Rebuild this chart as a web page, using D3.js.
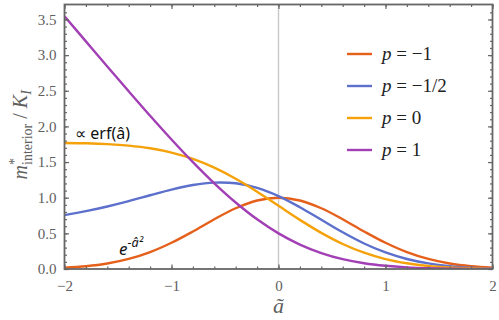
<!DOCTYPE html>
<html>
<head>
<meta charset="utf-8">
<script src="https://cdn.jsdelivr.net/npm/d3@7"></script>
<style>
  body { margin: 0; background: #fff; }
  svg { display: block; }
</style>
</head>
<body>
<div class="chart"></div>
<script>

// sample points along a-tilde
var aVals = [-2, -1.8, -1.6, -1.4, -1.2, -1, -0.8, -0.6, -0.4, -0.2, 0, 0.2, 0.4, 0.6, 0.8, 1, 1.2, 1.4, 1.6, 1.8, 2];

// m*_interior / K_I
var pMinus1 = [0.018, 0.039, 0.077, 0.141, 0.237, 0.368, 0.527, 0.698, 0.852, 0.961, 1.0, 0.961, 0.852, 0.698, 0.527, 0.368, 0.237, 0.141, 0.077, 0.039, 0.018];
var pMinusHalf = [0.756, 0.811, 0.877, 0.952, 1.034, 1.114, 1.178, 1.212, 1.202, 1.138, 1.023, 0.867, 0.691, 0.515, 0.358, 0.232, 0.140, 0.079, 0.041, 0.020, 0.009];
var pZero = [1.768, 1.763, 1.752, 1.730, 1.693, 1.633, 1.544, 1.421, 1.266, 1.084, 0.886, 0.689, 0.507, 0.351, 0.229, 0.139, 0.080, 0.042, 0.021, 0.010, 0.004];
var pOne = [3.546, 3.193, 2.841, 2.493, 2.150, 1.817, 1.499, 1.202, 0.933, 0.697, 0.5, 0.343, 0.224, 0.138, 0.081, 0.045, 0.023, 0.011, 0.005, 0.002, 0.001];

var seriesNames = ["p = \u22121", "p = \u22121/2", "p = 0", "p = 1"];
var seriesColors = ["#e5601a", "#5c70cc", "#f5a20a", "#a23fb5"];

var xTicks = [-2, -1, 0, 1, 2];
var yTicks = [0, 0.5, 1, 1.5, 2, 2.5, 3, 3.5];

var W = 499, H = 320;
var margin = { top: 4.5, right: 6.5, bottom: 51, left: 64.5 };
var width = W - margin.left - margin.right;
var height = H - margin.top - margin.bottom;

var x = d3.scaleLinear().domain([-2, 2]).range([0, width]);
var y = d3.scaleLinear().domain([0, 3.71]).range([height, 0]);

var svg = d3.select(".chart")
  .append("svg")
    .attr("width", W)
    .attr("height", H)
  .append("g")
    .attr("transform", "translate(" + margin.left + "," + margin.top + ")");

svg.append("defs").append("clipPath").attr("id", "clip")
  .append("rect").attr("width", width).attr("height", height);

// zero line
svg.append("line")
    .attr("x1", x(0)).attr("x2", x(0))
    .attr("y1", 0).attr("y2", height)
    .style("stroke", "#c8c8c8")
    .style("stroke-width", 1.4);

var allSeries = [pMinus1, pMinusHalf, pZero, pOne];
var line = d3.line()
    .x(function(d, i) { return x(aVals[i]); })
    .y(function(d) { return y(d); })
    .curve(d3.curveCatmullRom.alpha(0.5));

var curves = svg.append("g").attr("clip-path", "url(#clip)");
allSeries.forEach(function(s, k) {
    curves.append("path")
        .datum(s)
        .attr("d", line)
        .style("fill", "none")
        .style("stroke", seriesColors[k])
        .style("stroke-width", 2.4);
});

// frame with inward ticks on all sides
var frameColor = "#666666";
var minorX = d3.range(-2, 2.0001, 0.2);
var minorY = d3.range(0, 3.70, 0.1);

function addAxis(axis, transform) {
    var g = svg.append("g").attr("transform", transform).call(axis);
    g.select(".domain").remove();
    g.selectAll("line").style("stroke", frameColor).style("stroke-width", 1.2);
    return g;
}

// minor ticks
addAxis(d3.axisBottom(x).tickValues(minorX).tickSize(-2.5).tickFormat(""), "translate(0," + height + ")");
addAxis(d3.axisTop(x).tickValues(minorX).tickSize(-2.5).tickFormat(""), "translate(0,0)");
addAxis(d3.axisLeft(y).tickValues(minorY).tickSize(-2.5).tickFormat(""), "translate(0,0)");
addAxis(d3.axisRight(y).tickValues(minorY).tickSize(-2.5).tickFormat(""), "translate(" + width + ",0)");

// major ticks with labels
var xb = addAxis(d3.axisBottom(x).tickValues(xTicks).tickSize(-4.5).tickPadding(8)
    .tickFormat(function(d) { return d < 0 ? "\u2212" + (-d) : d; }), "translate(0," + height + ")");
addAxis(d3.axisTop(x).tickValues(xTicks).tickSize(-4.5).tickFormat(""), "translate(0,0)");
var yl = addAxis(d3.axisLeft(y).tickValues(yTicks).tickSize(-4.5).tickPadding(8)
    .tickFormat(d3.format(".1f")), "translate(0,0)");
addAxis(d3.axisRight(y).tickValues(yTicks).tickSize(-4.5).tickFormat(""), "translate(" + width + ",0)");

[xb, yl].forEach(function(g) {
    g.selectAll("text")
        .style("font-family", "Liberation Serif, serif")
        .style("font-size", "15px")
        .style("fill", "#606060");
});
xb.selectAll("text").attr("dy", "0.9em");

svg.append("rect")
    .attr("width", width).attr("height", height)
    .style("fill", "none")
    .style("stroke", frameColor)
    .style("stroke-width", 1.8);

// axis labels
svg.append("text")
    .attr("x", x(0))
    .attr("y", height + 44)
    .attr("text-anchor", "middle")
    .style("font-family", "Liberation Serif, serif")
    .style("font-style", "italic")
    .style("font-size", "22px")
    .style("fill", "#606060")
    .text("\u00e3");

var yLab = svg.append("text")
    .attr("transform", "translate(-38," + (height / 2 - 2) + ") rotate(-90)")
    .attr("text-anchor", "middle")
    .style("font-family", "Liberation Serif, serif")
    .style("font-size", "20px")
    .style("fill", "#606060");
yLab.append("tspan").style("font-style", "italic").text("m");
yLab.append("tspan").attr("dy", -8).style("font-size", "14px").text("*");
yLab.append("tspan").attr("dx", -7).attr("dy", 13).style("font-size", "14px").text("interior");
yLab.append("tspan").attr("dy", -5).text(" / ");
yLab.append("tspan").style("font-style", "italic").text("K");
yLab.append("tspan").attr("dy", 4).style("font-size", "14px").style("font-style", "italic").text("I");

// legend
var legend = svg.append("g").attr("transform", "translate(" + (347 - margin.left) + "," + (54 - margin.top) + ")");
seriesNames.forEach(function(name, k) {
    var row = legend.append("g").attr("transform", "translate(0," + k * 32 + ")");
    row.append("line")
        .attr("x1", 0).attr("x2", 25)
        .style("stroke", seriesColors[k])
        .style("stroke-width", 2.4);
    var t = row.append("text")
        .attr("x", 35).attr("y", 6)
        .style("font-family", "Liberation Serif, serif")
        .style("font-size", "19px")
        .style("fill", "#222");
    t.append("tspan").style("font-style", "italic").text("p");
    t.append("tspan").text(name.slice(1));
});

// annotations
svg.append("text")
    .attr("x", x(-1.9)).attr("y", y(1.83))
    .style("font-family", "Noto Sans, sans-serif")
    .style("font-size", "16px")
    .style("fill", "#111")
    .text("\u221d erf(\u00e2)");

var ann = svg.append("text")
    .attr("x", x(-1.49)).attr("y", y(0.19))
    .style("font-family", "Noto Sans, sans-serif")
    .style("font-size", "17px")
    .style("font-style", "italic")
    .style("fill", "#111");
ann.append("tspan").text("e");
ann.append("tspan").attr("dy", -8).style("font-size", "12.5px").text("\u2212\u00e2\u00b2");

</script>
</body>
</html>
